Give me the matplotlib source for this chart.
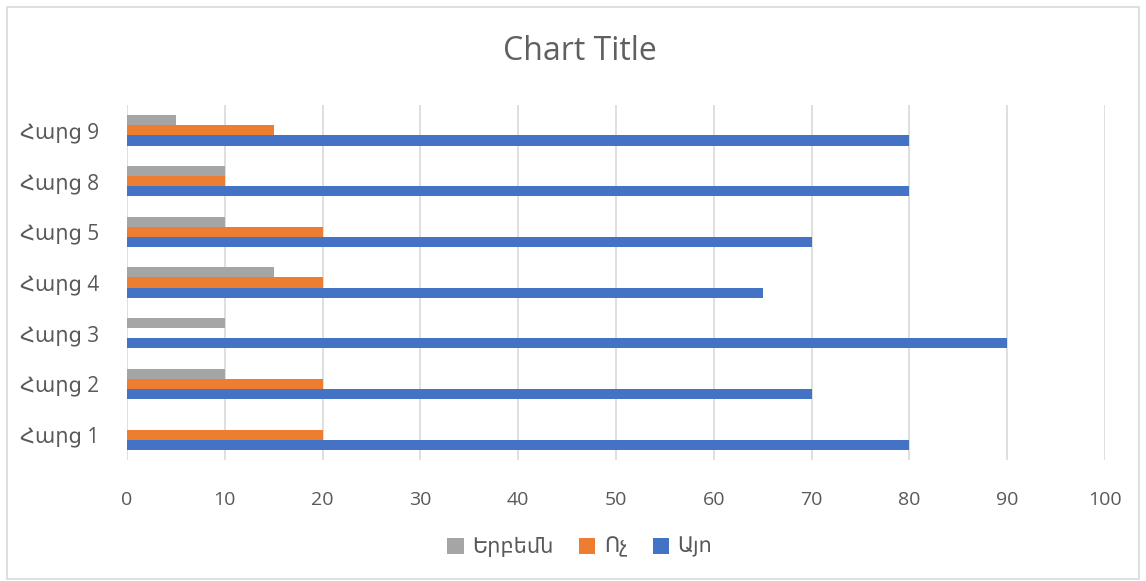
import matplotlib.pyplot as plt
import numpy as np

# data
questions = ['Հարց 1', 'Հարց 2', 'Հարց 3', 'Հարց 4', 'Հարց 5', 'Հարց 8', 'Հարց 9']
ayo = [80, 70, 90, 65, 70, 80, 80]        # Այո
voch = [20, 20, 0, 20, 20, 10, 15]        # Ոչ
yerbemn = [0, 10, 10, 15, 10, 10, 5]      # Երբեմն
xticks = np.arange(0, 101, 10)

plt.rcParams['font.family'] = ['Open Sans', 'DejaVu Sans']
txt = '#595959'

fig = plt.figure(figsize=(11.46, 5.81), dpi=100)
ax = fig.add_axes([0.1108, 0.2083, 0.8534, 0.6110])

y = np.arange(len(questions))
h = 0.2
b1 = ax.barh(y - h, ayo, height=h, color='#4472C4', label='Այո', zorder=3)
b2 = ax.barh(y, voch, height=h, color='#ED7D31', label='Ոչ', zorder=3)
b3 = ax.barh(y + h, yerbemn, height=h, color='#A5A5A5', label='Երբեմն', zorder=3)

ax.set_xlim(0, 100)
ax.set_ylim(-0.5, len(questions) - 0.5)
ax.set_xticks(xticks)
ax.set_yticks(y)
ax.set_yticklabels(questions)
ax.xaxis.grid(True, color='#d9d9d9', linewidth=1.2, zorder=0)
for s in ax.spines.values():
    s.set_visible(False)
ax.tick_params(axis='both', length=0, colors=txt, labelsize=14)
ax.tick_params(axis='y', labelsize=15)
ax.tick_params(axis='x', pad=22)
ax.tick_params(axis='y', pad=20)

fig.text(0.506, 0.912, 'Chart Title', ha='center', va='center', fontsize=23, color='#606060')

leg = fig.legend(handles=[b3, b2, b1], loc='center', bbox_to_anchor=(0.506, 0.058),
                 ncol=3, frameon=False, fontsize=15, handlelength=0.8, handleheight=0.8,
                 handletextpad=0.4, columnspacing=1.2)
for t in leg.get_texts():
    t.set_color(txt)

# light outer border like the excel chart frame
fig.patches.append(plt.Rectangle((0.006, 0.003), 0.988, 0.985, transform=fig.transFigure,
                                 fill=False, edgecolor='#d9d9d9', linewidth=1.2))

plt.savefig('out.png', dpi=100)
